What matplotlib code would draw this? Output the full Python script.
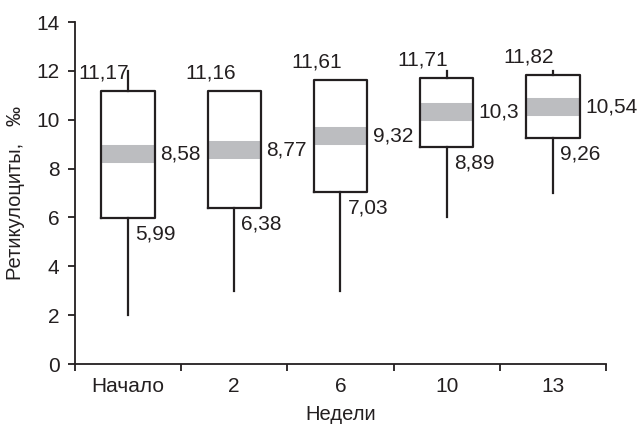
import matplotlib
matplotlib.use("Agg")
import matplotlib.pyplot as plt

plt.rcParams["font.family"] = ["Liberation Sans", "DejaVu Sans"]
plt.rcParams["font.size"] = 15

# data
weeks = ["Начало", "2", "6", "10", "13"]
q3 = [11.17, 11.16, 11.61, 11.71, 11.82]
med = [8.58, 8.77, 9.32, 10.3, 10.54]
q1 = [5.99, 6.38, 7.03, 8.89, 9.26]
whis_hi = [12, 11.16, 11.61, 12, 12]
whis_lo = [2, 3, 3, 6, 7]

INK = "#231f20"
GRAY = "#bcbdc0"


def fmt(v):
    return f"{v:g}".replace(".", ",")


fig = plt.figure(figsize=(6.4, 4.25), dpi=100)
ax = fig.add_axes([0.117, 0.1435, 0.83, 0.8045])

stats = [dict(med=m, q1=a, q3=b, whislo=lo, whishi=hi, label=w)
         for w, m, a, b, lo, hi in zip(weeks, med, q1, q3, whis_lo, whis_hi)]
pos = list(range(len(weeks)))
ax.bxp(stats, positions=pos, widths=0.5, showcaps=False, showfliers=False,
       boxprops=dict(color=INK, lw=1.6, zorder=3),
       whiskerprops=dict(color=INK, lw=1.6),
       medianprops=dict(color=GRAY, lw=13, solid_capstyle="butt", zorder=2))

for x, a, m, b in zip(pos, q1, med, q3):
    ax.annotate(fmt(b), (x, b), xytext=(1, 13), textcoords="offset points",
                ha="right", va="center", color=INK)
    ax.annotate(fmt(m), (x + 0.25, m), xytext=(4, 0), textcoords="offset points",
                ha="left", va="center", color=INK)
    ax.annotate(fmt(a), (x, a), xytext=(5, -11.5), textcoords="offset points",
                ha="left", va="center", color=INK)

ax.set_xlim(-0.5, len(weeks) - 0.5)
ax.set_ylim(0, 14)
ax.set_yticks(range(0, 15, 2))
ax.set_xticks(pos)
ax.set_xticklabels(weeks)
ax.set_xticks([p - 0.5 for p in pos] + [len(weeks) - 0.5], minor=True)
ax.tick_params(axis="x", which="major", length=0, pad=9, colors=INK)
ax.tick_params(axis="x", which="minor", length=5, width=1.3, color=INK)
ax.tick_params(axis="y", length=5, width=1.3, pad=6, colors=INK)

for s in ["top", "right"]:
    ax.spines[s].set_visible(False)
for s in ["left", "bottom"]:
    ax.spines[s].set_color(INK)
    ax.spines[s].set_linewidth(1.3)

ax.set_ylabel("Ретикулоциты,   ‰", color=INK, labelpad=8, fontsize=14.5)
ax.set_xlabel("Недели", color=INK, labelpad=7, fontsize=14.5)

fig.savefig("out.png", dpi=100, facecolor="white")
